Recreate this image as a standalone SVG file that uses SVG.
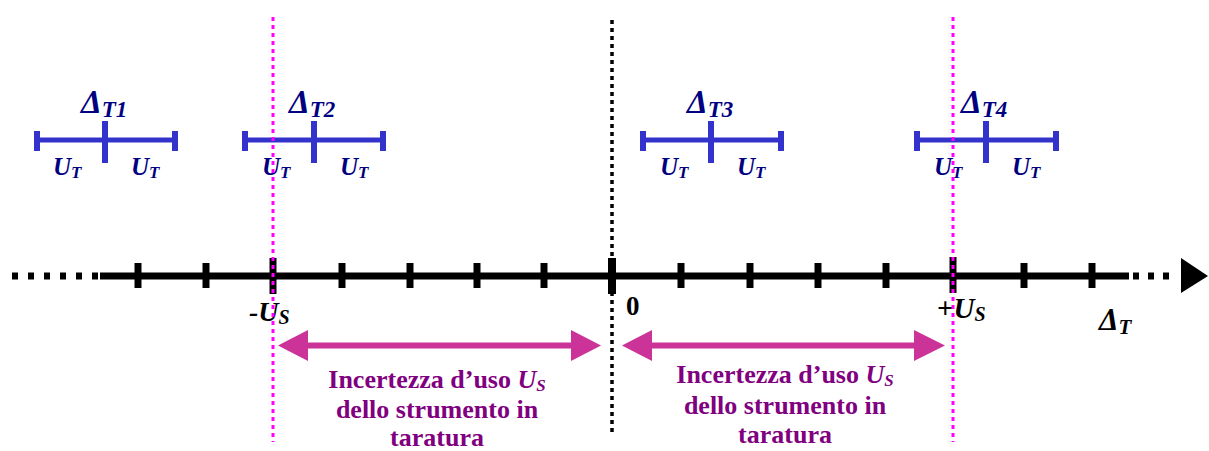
<svg xmlns="http://www.w3.org/2000/svg" width="1209" height="451" viewBox="0 0 1209 451">
<style>
.bar{stroke:#3333CC;stroke-width:5;fill:none}
.cap{stroke:#3333CC;stroke-width:6;fill:none}
.lbl{font-family:"Liberation Serif",serif;font-weight:bold;font-style:italic;fill:#000080}
.ax{font-family:"Liberation Serif",serif;font-weight:bold;font-style:italic;fill:#000}
.up{font-style:normal}
.tick{stroke:#000;stroke-width:7}
.txt{font-family:"Liberation Serif",serif;font-weight:bold;fill:#800080;font-size:26px;text-anchor:middle}
.it{font-style:italic}
.arr{stroke:#CC3399;stroke-width:6}
.ah{fill:#CC3399}
.pink{stroke:#FF00FF;stroke-width:3;stroke-dasharray:4 4;fill:none}
</style>
<rect width="1209" height="451" fill="#fff"/>
<g id="zero-line"><line x1="612" y1="20" x2="612" y2="434" stroke="#000" stroke-width="3.5" stroke-dasharray="4 4"/></g>
<g id="axis">
<line x1="12" y1="276" x2="98" y2="276" stroke="#000" stroke-width="7" stroke-dasharray="6 10"/>
<line x1="100" y1="276" x2="1129" y2="276" stroke="#000" stroke-width="7"/>
<line x1="1133" y1="276" x2="1176" y2="276" stroke="#000" stroke-width="7" stroke-dasharray="6 9"/>
<polygon points="1181,258 1208,276 1181,293" fill="#000"/>
<g class="tick">
<line x1="138" y1="263" x2="138" y2="288"/><line x1="206" y1="263" x2="206" y2="288"/>
<line x1="273" y1="258" x2="273" y2="294"/>
<line x1="342" y1="263" x2="342" y2="288"/><line x1="410" y1="263" x2="410" y2="288"/>
<line x1="477" y1="263" x2="477" y2="288"/><line x1="544" y1="263" x2="544" y2="288"/>
<line x1="612" y1="258" x2="612" y2="294" stroke-width="8"/>
<line x1="681" y1="263" x2="681" y2="288"/><line x1="750" y1="263" x2="750" y2="288"/>
<line x1="818" y1="263" x2="818" y2="288"/><line x1="886" y1="263" x2="886" y2="288"/>
<line x1="953" y1="257" x2="953" y2="293"/>
<line x1="1024" y1="263" x2="1024" y2="288"/><line x1="1092" y1="263" x2="1092" y2="288"/>
</g>
<text class="ax" x="249" y="321" font-size="28">-U<tspan font-size="20" dy="3">S</tspan></text>
<text class="ax up" x="626" y="315" font-size="27">0</text>
<text class="ax" x="937" y="318" font-size="29"><tspan class="up">+</tspan>U<tspan font-size="20" dy="3">S</tspan></text>
<text class="ax" x="1099" y="330" font-size="31">Δ<tspan font-size="21" dy="4">T</tspan></text>
</g>
<g id="delta-t1">
<line class="bar" x1="37" y1="140" x2="175" y2="140"/>
<line class="cap" x1="37" y1="131" x2="37" y2="151"/><line class="cap" x1="175" y1="131" x2="175" y2="151"/>
<line class="cap" x1="105" y1="121" x2="105" y2="163"/>
<text class="lbl" x="81" y="113" font-size="33">Δ<tspan font-size="23" dy="4">T1</tspan></text>
<text class="lbl" x="53" y="175" font-size="25">U<tspan font-size="17" dy="3">T</tspan></text>
<text class="lbl" x="131" y="175" font-size="25">U<tspan font-size="17" dy="3">T</tspan></text>
</g>
<g id="delta-t2">
<line class="bar" x1="245" y1="140" x2="383" y2="140"/>
<line class="cap" x1="245" y1="131" x2="245" y2="151"/><line class="cap" x1="383" y1="131" x2="383" y2="151"/>
<line class="cap" x1="314" y1="121" x2="314" y2="163"/>
<text class="lbl" x="289" y="113" font-size="33">Δ<tspan font-size="23" dy="4">T2</tspan></text>
<text class="lbl" x="262" y="175" font-size="25">U<tspan font-size="17" dy="3">T</tspan></text>
<text class="lbl" x="340" y="175" font-size="25">U<tspan font-size="17" dy="3">T</tspan></text>
</g>
<g id="delta-t3">
<line class="bar" x1="643" y1="140" x2="781" y2="140"/>
<line class="cap" x1="643" y1="131" x2="643" y2="151"/><line class="cap" x1="781" y1="131" x2="781" y2="151"/>
<line class="cap" x1="711" y1="121" x2="711" y2="163"/>
<text class="lbl" x="687" y="113" font-size="33">Δ<tspan font-size="23" dy="4">T3</tspan></text>
<text class="lbl" x="660" y="175" font-size="25">U<tspan font-size="17" dy="3">T</tspan></text>
<text class="lbl" x="737" y="175" font-size="25">U<tspan font-size="17" dy="3">T</tspan></text>
</g>
<g id="delta-t4">
<line class="bar" x1="917" y1="140" x2="1056" y2="140"/>
<line class="cap" x1="917" y1="131" x2="917" y2="151"/><line class="cap" x1="1056" y1="131" x2="1056" y2="151"/>
<line class="cap" x1="986" y1="121" x2="986" y2="163"/>
<text class="lbl" x="961" y="113" font-size="33">Δ<tspan font-size="23" dy="4">T4</tspan></text>
<text class="lbl" x="934" y="175" font-size="25">U<tspan font-size="17" dy="3">T</tspan></text>
<text class="lbl" x="1012" y="175" font-size="25">U<tspan font-size="17" dy="3">T</tspan></text>
</g>
<g id="connectors">
<line class="arr" x1="300" y1="345.5" x2="580" y2="345.5"/>
<polygon class="ah" points="278,345.5 308,330 308,361"/>
<polygon class="ah" points="601,345.5 571,330 571,361"/>
<line class="arr" x1="645" y1="345.5" x2="922" y2="345.5"/>
<polygon class="ah" points="622,345.5 652,330 652,361"/>
<polygon class="ah" points="945,345.5 914,330 914,361"/>
</g>
<g id="label-left">
<text class="txt" x="437" y="388">Incertezza d’uso <tspan class="it">U</tspan><tspan class="it" font-size="17" dy="3">S</tspan></text>
<text class="txt" x="437" y="418">dello strumento in</text>
<text class="txt" x="437" y="446">taratura</text>
</g>
<g id="label-right">
<text class="txt" x="785" y="383">Incertezza d’uso <tspan class="it">U</tspan><tspan class="it" font-size="17" dy="3">S</tspan></text>
<text class="txt" x="785" y="414">dello strumento in</text>
<text class="txt" x="785" y="443">taratura</text>
</g>
<g id="limits">
<line class="pink" x1="273" y1="17" x2="273" y2="442"/>
<line class="pink" x1="953" y1="17" x2="953" y2="442"/>
</g>
</svg>
